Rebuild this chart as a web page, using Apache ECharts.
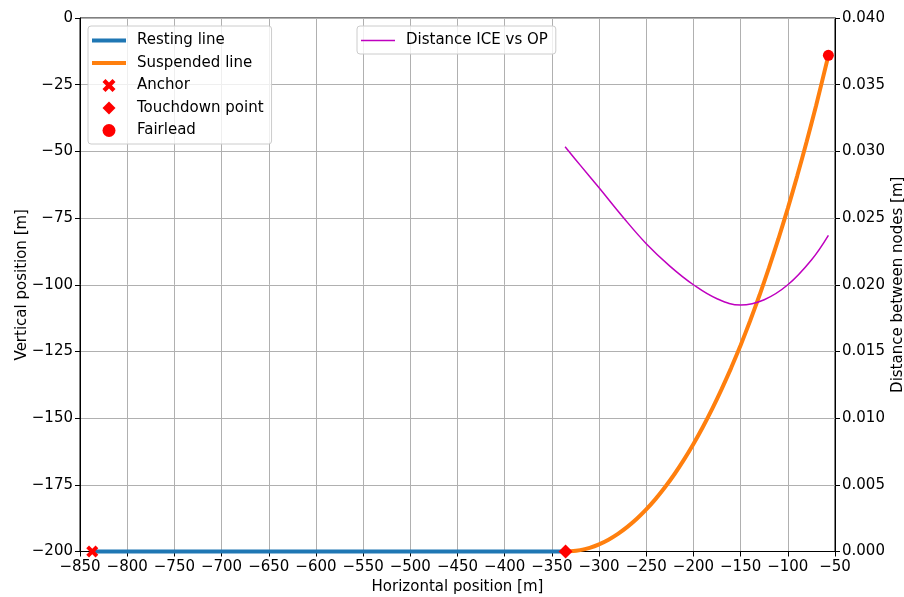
<!DOCTYPE html>
<html>
<head>
<meta charset="utf-8">
<script src="https://cdn.jsdelivr.net/npm/echarts@6/dist/echarts.min.js"></script>
<style>
html,body{margin:0;padding:0;background:#fff;}
#chart{width:904px;height:597px;}
</style>
</head>
<body>
<div id="chart"></div>
<script>
// ---- data ----
const restX = [-837, -335.5];
const restY = [-200, -200];

const suspX = [-335.5, -330, -320, -310, -300, -290, -280, -270, -260, -250, -240, -230, -220, -210, -200, -190, -180, -170, -160, -150, -140, -130, -120, -110, -100, -90, -80, -70, -57];
const suspY = [-200, -199.94, -199.49, -198.61, -197.31, -195.57, -193.39, -190.78, -187.73, -184.22, -180.27, -175.84, -170.95, -165.58, -159.71, -153.35, -146.47, -139.06, -131.15, -122.66, -113.60, -103.95, -93.70, -82.84, -71.35, -59.17, -46.33, -32.78, -14.07];

const distX = [-336, -320, -300, -275, -250, -225, -200, -175, -150, -125, -100, -75, -57];
const distY = [0.03034, 0.02897, 0.02727, 0.02510, 0.02308, 0.02140, 0.02000, 0.01895, 0.01848, 0.01888, 0.02000, 0.02186, 0.02371];

const anchorPt = [-837, -200];
const touchdownPt = [-335.5, -200];
const fairleadPt = [-57, -14];

const xTicks = {min: -850, max: -50, interval: 50};
const yTicks = {min: -200, max: 0, interval: 25};
const y2Ticks = {min: 0, max: 0.04, interval: 0.005};

const names = ['Resting line', 'Suspended line', 'Anchor', 'Touchdown point', 'Fairlead'];
const distName = 'Distance ICE vs OP';

// ---- chart ----
const zip = (xs, ys) => xs.map((x, i) => [x, ys[i]]);
const minus = v => String(v).replace('-', '\u2212');
const FONT = 'DejaVu Sans';
const FS = 15;
const xMarker = 'path://M0,2.3 L2.3,0 L5,2.7 L7.7,0 L10,2.3 L7.3,5 L10,7.7 L7.7,10 L5,7.3 L2.3,10 L0,7.7 L2.7,5 Z';
const diamondMarker = 'path://M5,0 L10,5 L5,10 L0,5 Z';
const lineIcon = 'path://M0,0 L34,0 L34,4 L0,4 Z';
const thinLineIcon = 'path://M0,0 L34,0 L34,1.6 L0,1.6 Z';

const chart = echarts.init(document.getElementById('chart'), null, {renderer: 'canvas'});
const axisCommon = {
  axisLine: {show: true, onZero: false, lineStyle: {color: '#000', width: 1}},
  axisTick: {show: true, length: 5, lineStyle: {color: '#000', width: 1}},
  axisLabel: {color: '#000', fontFamily: FONT, fontSize: FS, margin: 7},
  nameTextStyle: {color: '#000', fontFamily: FONT, fontSize: FS},
  nameMoveOverlap: false,
  splitLine: {show: true, lineStyle: {color: '#b0b0b0', width: 1}}
};
const legendCommon = {
  orient: 'vertical', top: 26,
  itemWidth: 34, itemHeight: 13, itemGap: 5.5,
  padding: [6, 8, 5, 4],
  backgroundColor: 'rgba(255,255,255,0.8)', borderColor: '#cccccc', borderWidth: 1, borderRadius: 3,
  textStyle: {color: '#000', fontFamily: FONT, fontSize: FS, lineHeight: 17, padding: [0, 0, 0, 6]}
};

chart.setOption({
  animation: false,
  backgroundColor: '#fff',
  grid: {left: 80, right: 69, top: 18, bottom: 45.5, containLabel: false, outerBoundsMode: 'none',
         show: true, borderColor: '#000', borderWidth: 1, backgroundColor: 'transparent'},
  legend: [Object.assign({}, legendCommon, {
    left: 88,
    data: [
      {name: names[0], icon: lineIcon},
      {name: names[1], icon: lineIcon},
      {name: names[2], icon: xMarker},
      {name: names[3], icon: diamondMarker},
      {name: names[4], icon: 'circle'}
    ]
  }), Object.assign({}, legendCommon, {
    left: 357,
    data: [{name: distName, icon: thinLineIcon}]
  })],
  xAxis: Object.assign({}, axisCommon, {
    type: 'value', min: xTicks.min, max: xTicks.max, interval: xTicks.interval,
    name: 'Horizontal position [m]', nameLocation: 'middle', nameGap: 28,
    axisLabel: Object.assign({}, axisCommon.axisLabel, {formatter: minus, margin: 8})
  }),
  yAxis: [Object.assign({}, axisCommon, {
    type: 'value', min: yTicks.min, max: yTicks.max, interval: yTicks.interval,
    name: 'Vertical position [m]', nameLocation: 'middle', nameGap: 50,
    axisLabel: Object.assign({}, axisCommon.axisLabel, {formatter: minus})
  }), Object.assign({}, axisCommon, {
    type: 'value', position: 'right', min: y2Ticks.min, max: y2Ticks.max, interval: y2Ticks.interval,
    name: 'Distance between nodes [m]', nameLocation: 'middle', nameGap: 56,
    splitLine: {show: false},
    axisLabel: Object.assign({}, axisCommon.axisLabel, {formatter: v => v.toFixed(3)})
  })],
  series: [
    {name: names[0], type: 'line', data: zip(restX, restY), symbol: 'none', z: 2,
     lineStyle: {color: '#1f77b4', width: 4}, itemStyle: {color: '#1f77b4'}, clip: false},
    {name: names[1], type: 'line', data: zip(suspX, suspY), symbol: 'none', z: 3, smooth: 0.2,
     lineStyle: {color: '#ff7f0e', width: 4}, itemStyle: {color: '#ff7f0e'}},
    {name: names[2], type: 'scatter', data: [anchorPt], symbol: xMarker, symbolSize: 12, z: 5,
     itemStyle: {color: '#ff0000', opacity: 1}},
    {name: names[3], type: 'scatter', data: [touchdownPt], symbol: diamondMarker, symbolSize: 14, z: 5,
     itemStyle: {color: '#ff0000', opacity: 1}},
    {name: names[4], type: 'scatter', data: [fairleadPt], symbol: 'circle', symbolSize: 11, z: 5,
     itemStyle: {color: '#ff0000', opacity: 1}},
    {name: distName, type: 'line', yAxisIndex: 1, data: zip(distX, distY), symbol: 'none', z: 6, smooth: 0.4,
     lineStyle: {color: '#bf00bf', width: 1.5}, itemStyle: {color: '#bf00bf'}}
  ]
});
</script>
</body>
</html>
